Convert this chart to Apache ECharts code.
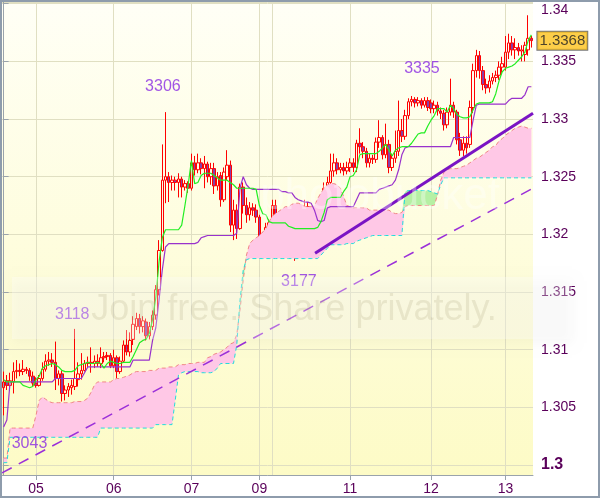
<!DOCTYPE html>
<html><head><meta charset="utf-8">
<script src="https://cdn.jsdelivr.net/npm/echarts@6/dist/echarts.min.js"></script>
<style>html,body{margin:0;padding:0;background:#fff}#c{width:600px;height:498px}</style>
</head><body><div id="c"></div>
<script>
// hourly candles: [open, close, low, high]
const candles = [
/*0*/[1.3067,1.3072,1.3043,1.3081],[1.3073,1.3069,1.3065,1.3078],[1.3069,1.3073,1.3065,1.3080],[1.3072,1.3081,1.3062,1.3089],[1.3081,1.3082,1.3075,1.3091],
/*5*/[1.3082,1.3081,1.3077,1.3088],[1.3081,1.3083,1.3078,1.3091],[1.3083,1.3082,1.3079,1.3085],[1.3082,1.3077,1.3073,1.3084],[1.3077,1.3071,1.3068,1.3081],
/*10*/[1.3071,1.3069,1.3067,1.3076],[1.3069,1.3075,1.3068,1.3078],[1.3075,1.3083,1.3073,1.3089],[1.3083,1.3090,1.3081,1.3096],[1.3090,1.3091,1.3086,1.3098],
/*15*/[1.3091,1.3089,1.3085,1.3097],[1.3089,1.3075,1.3065,1.3107],[1.3075,1.3079,1.3069,1.3082],[1.3079,1.3062,1.3055,1.3082],[1.3062,1.3065,1.3056,1.3069],
/*20*/[1.3065,1.3068,1.3059,1.3071],[1.3067,1.3069,1.3061,1.3074],[1.3068,1.3075,1.3065,1.3118],[1.3074,1.3079,1.3068,1.3089],[1.3079,1.3082,1.3074,1.3097],
/*25*/[1.3082,1.3088,1.3081,1.3091],[1.3088,1.3089,1.3085,1.3094],[1.3089,1.3088,1.3080,1.3102],[1.3088,1.3090,1.3084,1.3095],[1.3090,1.3088,1.3085,1.3096],
/*30*/[1.3088,1.3093,1.3084,1.3102],[1.3093,1.3094,1.3089,1.3098],[1.3094,1.3095,1.3091,1.3098],[1.3095,1.3086,1.3084,1.3097],[1.3086,1.3093,1.3084,1.3100],
/*35*/[1.3093,1.3081,1.3075,1.3095],[1.3081,1.3090,1.3079,1.3094],[1.3090,1.3104,1.3089,1.3108],[1.3104,1.3098,1.3095,1.3117],[1.3098,1.3108,1.3094,1.3115],
/*40*/[1.3109,1.3122,1.3104,1.3129],[1.3120,1.3127,1.3117,1.3132],[1.3127,1.3120,1.3114,1.3131],[1.3120,1.3125,1.3115,1.3129],[1.3124,1.3112,1.3108,1.3127],
/*45*/[1.3112,1.3120,1.3109,1.3124],[1.3120,1.3130,1.3117,1.3134],[1.3130,1.3152,1.3126,1.3156],[1.3152,1.3186,1.3147,1.3195],[1.3186,1.3247,1.3185,1.3278],
/*50*/[1.3247,1.3250,1.3227,1.3306],[1.3250,1.3245,1.3228,1.3254],[1.3245,1.3247,1.3238,1.3251],[1.3247,1.3245,1.3238,1.3250],[1.3245,1.3248,1.3232,1.3253],
/*55*/[1.3248,1.3241,1.3232,1.3250],[1.3241,1.3244,1.3238,1.3247],[1.3244,1.3240,1.3236,1.3246],[1.3240,1.3262,1.3238,1.3270],[1.3262,1.3256,1.3251,1.3268],
/*60*/[1.3256,1.3262,1.3253,1.3270],[1.3262,1.3257,1.3252,1.3266],[1.3257,1.3261,1.3240,1.3268],[1.3261,1.3250,1.3245,1.3263],[1.3250,1.3257,1.3243,1.3262],
/*65*/[1.3257,1.3242,1.3235,1.3262],[1.3242,1.3250,1.3238,1.3254],[1.3251,1.3230,1.3224,1.3254],[1.3230,1.3254,1.3228,1.3258],[1.3250,1.3260,1.3247,1.3273],
/*70*/[1.3260,1.3208,1.3202,1.3264],[1.3208,1.3221,1.3195,1.3230],[1.3221,1.3205,1.3196,1.3226],[1.3205,1.3241,1.3204,1.3244],[1.3241,1.3225,1.3218,1.3245],
/*75*/[1.3225,1.3217,1.3210,1.3232],[1.3217,1.3223,1.3212,1.3228],[1.3223,1.3221,1.3216,1.3227],[1.3221,1.3215,1.3210,1.3226],[1.3215,1.3192,1.3188,1.3217],
/*80*/[1.3192,1.3198,1.3189,1.3202],[1.3198,1.3206,1.3195,1.3210],[1.3206,1.3210,1.3203,1.3213],[1.3210,1.3225,1.3207,1.3230],[1.3225,1.3217,1.3213,1.3230],
/*85*/[1.3217,1.3207,1.3203,1.3219],[1.3207,1.3198,1.3193,1.3209],[1.3198,1.3196,1.3190,1.3203],[1.3196,1.3199,1.3190,1.3203],[1.3199,1.3193,1.3189,1.3202],
/*90*/[1.3193,1.3195,1.3177,1.3200],[1.3195,1.3213,1.3190,1.3216],[1.3213,1.3219,1.3208,1.3224],[1.3219,1.3224,1.3215,1.3230],[1.3224,1.3208,1.3203,1.3228],
/*95*/[1.3208,1.3218,1.3205,1.3222],[1.3218,1.3203,1.3198,1.3220],[1.3203,1.3194,1.3190,1.3206],[1.3194,1.3196,1.3190,1.3199],[1.3196,1.3240,1.3193,1.3245],
/*100*/[1.3240,1.3245,1.3225,1.3250],[1.3245,1.3255,1.3240,1.3270],[1.3255,1.3262,1.3250,1.3270],[1.3262,1.3256,1.3252,1.3266],[1.3256,1.3258,1.3253,1.3262],
/*105*/[1.3258,1.3255,1.3251,1.3262],[1.3255,1.3258,1.3252,1.3263],[1.3258,1.3262,1.3254,1.3266],[1.3262,1.3258,1.3254,1.3266],[1.3258,1.3279,1.3254,1.3282],
/*110*/[1.3279,1.3276,1.3270,1.3292],[1.3276,1.3272,1.3266,1.3280],[1.3272,1.3262,1.3258,1.3275],[1.3262,1.3266,1.3258,1.3270],[1.3266,1.3265,1.3261,1.3269],
/*115*/[1.3265,1.3280,1.3262,1.3284],[1.3280,1.3284,1.3275,1.3299],[1.3284,1.3269,1.3265,1.3286],[1.3269,1.3278,1.3266,1.3296],[1.3278,1.3258,1.3253,1.3282],
/*120*/[1.3258,1.3266,1.3255,1.3270],[1.3266,1.3272,1.3262,1.3290],[1.3272,1.3290,1.3268,1.3316],[1.3290,1.3285,1.3280,1.3300],[1.3285,1.3303,1.3282,1.3308],
/*125*/[1.3303,1.3315,1.3300,1.3318],[1.3315,1.3317,1.3311,1.3320],[1.3317,1.3314,1.3310,1.3319],[1.3314,1.3316,1.3311,1.3319],[1.3316,1.3312,1.3309,1.3318],
/*130*/[1.3312,1.3316,1.3310,1.3319],[1.3316,1.3310,1.3307,1.3319],[1.3314,1.3309,1.3305,1.3317],[1.3309,1.3312,1.3305,1.3316],[1.3312,1.3307,1.3303,1.3315],
/*135*/[1.3307,1.3305,1.3300,1.3310],[1.3305,1.3295,1.3290,1.3308],[1.3295,1.3306,1.3292,1.3310],[1.3306,1.3312,1.3303,1.3335],[1.3312,1.3306,1.3301,1.3315],
/*140*/[1.3306,1.3282,1.3278,1.3308],[1.3282,1.3273,1.3268,1.3288],[1.3273,1.3279,1.3268,1.3285],[1.3279,1.3275,1.3270,1.3285],[1.3278,1.3310,1.3275,1.3316],
/*145*/[1.3310,1.3342,1.3305,1.3348],[1.3342,1.3355,1.3336,1.3360],[1.3355,1.3342,1.3335,1.3359],[1.3342,1.3330,1.3325,1.3346],[1.3330,1.3327,1.3322,1.3335],
/*150*/[1.3327,1.3333,1.3323,1.3338],[1.3333,1.3336,1.3330,1.3340],[1.3336,1.3338,1.3332,1.3342],[1.3338,1.3345,1.3334,1.3350],[1.3345,1.3348,1.3340,1.3354],
/*155*/[1.3345,1.3358,1.3342,1.3372],[1.3358,1.3366,1.3352,1.3374],[1.3366,1.3360,1.3355,1.3372],[1.3360,1.3362,1.3352,1.3370],[1.3362,1.3359,1.3355,1.3366],
/*160*/[1.3359,1.3360,1.3350,1.3364],[1.3356,1.3364,1.3350,1.3367],[1.3360,1.3370,1.3355,1.3390],[1.3370,1.3368,1.3362,1.3372]
];

const tenkan = [
1.3074,1.3072,1.3072,1.3072,1.3072,1.3072,1.3069,1.3068,1.3067,1.3068,
1.3074,1.3077,1.3084,1.3086,1.3087,1.3088,1.3087,1.3085,1.3082,1.3081,
1.3081,1.3081,1.3082,1.3086,1.3087,1.3088,1.3089,1.3088,1.3088,1.3089,
1.3088,1.3084,1.3088,1.3090,1.3089,1.3088,1.3088,1.3089,1.3089,1.3089,
1.3094,1.3100,1.3106,1.3108,1.3109,1.3114,1.3126,1.3145,1.3176,1.3197,
1.3204,1.3204,1.3204,1.3204,1.3204,1.3208,1.3225,1.3243,1.3264,1.3244,
1.3245,1.3251,1.3253,1.3253,1.3253,1.3251,1.3249,1.3247,1.3247,1.3247,
1.3245,1.3243,1.3240,1.3240,1.3240,1.3240,1.3240,1.3240,1.3239,1.3225,
1.3218,1.3217,1.3211,1.3210,1.3210,1.3210,1.3210,1.3210,1.3207,1.3206,
1.3205,1.3205,1.3205,1.3205,1.3205,1.3205,1.3205,1.3206,1.3211,1.3219,
1.3230,1.3232,1.3232,1.3232,1.3232,1.3237,1.3241,1.3250,1.3251,1.3256,
1.3269,1.3270,1.3270,1.3270,1.3270,1.3270,1.3272,1.3275,1.3278,1.3273,
1.3268,1.3273,1.3275,1.3276,1.3276,1.3276,1.3279,1.3283,1.3287,1.3288,
1.3288,1.3294,1.3299,1.3303,1.3309,1.3309,1.3309,1.3306,1.3312,1.3309,
1.3304,1.3302,1.3301,1.3301,1.3302,1.3308,1.3313,1.3314,1.3314,1.3314,
1.3314,1.3315,1.3322,1.3333,1.3341,1.3344,1.3345,1.3346,1.3348,1.3351,
1.3354,1.3358,1.3368,1.3373
];

const kijun = [
1.3033,1.3039,1.3072,1.3072,1.3072,1.3072,1.3072,1.3072,1.3072,1.3072,
1.3072,1.3072,1.3072,1.3072,1.3072,1.3072,1.3075,1.3075,1.3075,1.3075,
1.3075,1.3075,1.3075,1.3075,1.3075,1.3080,1.3085,1.3085,1.3085,1.3085,
1.3085,1.3085,1.3085,1.3085,1.3085,1.3085,1.3085,1.3085,1.3085,1.3085,
1.3091,1.3091,1.3091,1.3091,1.3091,1.3091,1.3108,1.3119,1.3143,1.3169,
1.3189,1.3192,1.3192,1.3192,1.3192,1.3192,1.3192,1.3192,1.3192,1.3192,
1.3193,1.3197,1.3198,1.3199,1.3199,1.3199,1.3199,1.3199,1.3199,1.3199,
1.3199,1.3199,1.3201,1.3240,1.3250,1.3243,1.3240,1.3239,1.3239,1.3239,
1.3239,1.3239,1.3239,1.3239,1.3239,1.3239,1.3237,1.3237,1.3236,1.3236,
1.3232,1.3230,1.3229,1.3228,1.3228,1.3227,1.3221,1.3212,1.3211,1.3212,
1.3223,1.3224,1.3224,1.3224,1.3224,1.3224,1.3224,1.3224,1.3224,1.3230,
1.3236,1.3236,1.3236,1.3236,1.3236,1.3236,1.3239,1.3240,1.3241,1.3242,
1.3243,1.3247,1.3256,1.3269,1.3275,1.3276,1.3276,1.3276,1.3276,1.3276,
1.3276,1.3276,1.3276,1.3276,1.3276,1.3276,1.3276,1.3276,1.3276,1.3284,
1.3284,1.3284,1.3284,1.3284,1.3284,1.3299,1.3312,1.3313,1.3313,1.3313,
1.3313,1.3313,1.3313,1.3313,1.3313,1.3313,1.3316,1.3318,1.3318,1.3318,
1.3318,1.3321,1.3328,1.3328
];

const spanA = [
1.3006,1.3006,1.3032,1.3032,1.3032,1.3032,1.3032,1.3032,1.3032,1.3032,
1.3043,1.3056,1.3059,1.3057,1.3055,1.3054,1.3054,1.3054,1.3054,1.3054,
1.3054,1.3054,1.3055,1.3055,1.3055,1.3056,1.3058,1.3063,1.3069,1.3072,
1.3072,1.3072,1.3072,1.3072,1.3074,1.3075,1.3075,1.3076,1.3077,1.3078,
1.3080,1.3081,1.3081,1.3081,1.3081,1.3082,1.3082,1.3082,1.3084,1.3084,
1.3084,1.3085,1.3085,1.3085,1.3087,1.3087,1.3087,1.3088,1.3088,1.3088,
1.3089,1.3089,1.3089,1.3093,1.3094,1.3096,1.3097,1.3098,1.3100,1.3102,
1.3105,1.3106,1.3113,1.3134,1.3160,1.3182,1.3192,1.3195,1.3197,1.3199,
1.3202,1.3205,1.3211,1.3216,1.3218,1.3220,1.3222,1.3224,1.3224,1.3226,
1.3227,1.3227,1.3226,1.3224,1.3224,1.3224,1.3225,1.3231,1.3236,1.3240,
1.3243,1.3244,1.3244,1.3243,1.3240,1.3233,1.3225,1.3224,1.3223,1.3223,
1.3223,1.3223,1.3223,1.3221,1.3221,1.3221,1.3221,1.3221,1.3221,1.3221,
1.3219,1.3218,1.3218,1.3219,1.3224,1.3225,1.3225,1.3225,1.3225,1.3225,
1.3225,1.3225,1.3225,1.3225,1.3234,1.3247,1.3254,1.3256,1.3257,1.3257,
1.3257,1.3258,1.3259,1.3260,1.3262,1.3264,1.3266,1.3267,1.3269,1.3271,
1.3273,1.3276,1.3277,1.3281,1.3283,1.3286,1.3288,1.3290,1.3292,1.3293,
1.3294,1.3293,1.3292,1.3292
];

const spanB = [
1.3002,1.3002,1.3024,1.3024,1.3024,1.3024,1.3024,1.3024,1.3024,1.3024,
1.3024,1.3024,1.3024,1.3024,1.3024,1.3024,1.3024,1.3024,1.3024,1.3024,
1.3024,1.3024,1.3024,1.3024,1.3024,1.3024,1.3024,1.3024,1.3024,1.3024,
1.3032,1.3032,1.3032,1.3032,1.3032,1.3032,1.3032,1.3032,1.3032,1.3032,
1.3032,1.3032,1.3032,1.3032,1.3032,1.3032,1.3032,1.3035,1.3035,1.3035,
1.3035,1.3035,1.3035,1.3056,1.3078,1.3080,1.3081,1.3081,1.3081,1.3081,
1.3081,1.3080,1.3080,1.3080,1.3080,1.3081,1.3084,1.3088,1.3088,1.3088,
1.3088,1.3088,1.3104,1.3143,1.3169,1.3178,1.3179,1.3179,1.3179,1.3179,
1.3179,1.3179,1.3179,1.3179,1.3179,1.3179,1.3179,1.3179,1.3179,1.3179,
1.3179,1.3179,1.3179,1.3179,1.3179,1.3179,1.3179,1.3179,1.3182,1.3185,
1.3188,1.3191,1.3191,1.3191,1.3191,1.3191,1.3192,1.3192,1.3192,1.3194,
1.3195,1.3196,1.3197,1.3198,1.3199,1.3199,1.3199,1.3199,1.3199,1.3199,
1.3199,1.3199,1.3199,1.3199,1.3237,1.3238,1.3238,1.3238,1.3238,1.3238,
1.3238,1.3238,1.3237,1.3236,1.3235,1.3243,1.3249,1.3249,1.3249,1.3249,
1.3249,1.3249,1.3249,1.3249,1.3249,1.3249,1.3249,1.3249,1.3249,1.3249,
1.3249,1.3249,1.3249,1.3249,1.3249,1.3249,1.3249,1.3249,1.3249,1.3249,
1.3249,1.3249,1.3249,1.3249
];

const dayLabels = ['05','06','07','09','11','12','13'];
const dayIndex  = [10, 34, 58, 79, 107, 132, 155];
const extraGridIndex = [83];

// swing annotations: [x (candle index), price, text]
const swingLabels = [
  [49.2, 1.33284, '3306'],
  [129.2, 1.33440, '3335'],
  [21.2, 1.31300, '3118'],
  [91.2, 1.31586, '3177'],
  [8.0, 1.30182, '3043']
];
// trend lines: [candle index, price]
const trendSolid  = [[96.2, 1.31837], [163.5, 1.33050]];
const trendDashed = [[-0.5, 1.29931], [163.5, 1.32400]];

const categories = candles.map((_, i) => String(i));
const lastIdx = candles.length - 1;
const lastClose = candles[lastIdx][1];

const cloudBase  = spanA.map((a, i) => Math.min(a, spanB[i]));
const cloudPink  = spanA.map((a, i) => Math.max(a - spanB[i], 0));
const cloudGreen = spanA.map((a, i) => Math.max(spanB[i] - a, 0));

const FONT = '"Liberation Sans", Arial, sans-serif';
const AXIS_TXT = '#5a005a';
const gridShow = (idx) => dayIndex.includes(idx) || extraGridIndex.includes(idx);
const CLEAR = 'rgba(0,0,0,0)';

const chart = echarts.init(document.getElementById('c'), null, {renderer: 'canvas'});
chart.setOption({
  animation: false,
  backgroundColor: '#ffffff',
  grid: {
    left: 2, right: 67, top: 2, bottom: 23, show: true, borderWidth: 0,
    backgroundColor: new echarts.graphic.LinearGradient(0, 0, 0, 1, [
      {offset: 0, color: '#fffff6'}, {offset: 1, color: '#fdfbc6'}])
  },
  xAxis: [{
    type: 'category', data: categories, boundaryGap: true,
    axisLine: {lineStyle: {color: '#9aa3ab'}},
    axisTick: {show: true, length: 5, alignWithLabel: true, interval: (i) => dayIndex.includes(i), lineStyle: {color: '#9aa3ab'}},
    axisLabel: {
      interval: (i) => dayIndex.includes(i),
      formatter: (v) => dayLabels[dayIndex.indexOf(+v)] || '',
      color: AXIS_TXT, fontSize: 14, fontFamily: FONT, margin: 7
    },
    splitLine: {show: true, alignWithLabel: true, interval: gridShow, lineStyle: {color: '#e0dfc2'}}
  }, {
    type: 'value', min: -0.5, max: lastIdx + 0.5, show: false
  }],
  yAxis: {
    type: 'value', position: 'right', min: 1.29913, max: 1.34015, splitNumber: 8,
    axisLine: {show: true, lineStyle: {color: '#9aa3ab'}},
    axisTick: {show: true, length: 5, lineStyle: {color: '#9aa3ab'}},
    splitLine: {show: true, lineStyle: {color: '#e0dfc2'}},
    axisLabel: {
      showMinLabel: false, showMaxLabel: false, margin: 8,
      color: AXIS_TXT, fontSize: 14, fontFamily: FONT,
      formatter: (v) => {
        const r = Math.round(v * 1000) / 1000;
        if (Math.abs(r - 1.3) < 1e-9) return '{b|1.3}';
        if (Math.abs(r - 1.34) < 1e-9) return '{t|1.34}';
        return String(r);
      },
      rich: {
        b: {fontWeight: 'bold', fontSize: 16, color: AXIS_TXT, fontFamily: FONT},
        t: {padding: [13, 0, 0, 0], fontSize: 14, color: AXIS_TXT, fontFamily: FONT}
      }
    }
  },
  series: [
    {type: 'line', data: cloudBase, stack: 'cloud', symbol: 'none', silent: true, lineStyle: {width: 0, opacity: 0}},
    {type: 'line', data: cloudPink, stack: 'cloud', symbol: 'none', silent: true, lineStyle: {width: 0, opacity: 0},
      areaStyle: {color: '#ffc8e6', opacity: 1}},
    {type: 'line', data: cloudGreen, stack: 'cloud', symbol: 'none', silent: true, lineStyle: {width: 0, opacity: 0},
      areaStyle: {color: '#b6f0a4', opacity: 1}},
    {type: 'line', data: spanA, symbol: 'none', silent: true, lineStyle: {color: '#f08686', width: 1, type: [4, 3]}},
    {type: 'line', data: spanB, symbol: 'none', silent: true, lineStyle: {color: '#22dcdc', width: 1, type: [4, 3]}},
    {type: 'line', xAxisIndex: 1, data: trendDashed, symbol: 'none', silent: true,
      lineStyle: {color: '#9b30d9', width: 1.5, type: [11, 8]}},
    {type: 'line', data: kijun, symbol: 'none', silent: true, lineStyle: {color: '#9932cc', width: 1.2}},
    {type: 'line', data: tenkan, symbol: 'none', silent: true, lineStyle: {color: '#22ee22', width: 1.2}},
    {type: 'candlestick', data: candles, barWidth: 3,
      itemStyle: {color: 'rgba(255,255,255,0)', color0: '#8a3fa6', borderColor: '#ff0000', borderColor0: '#ff0000', borderWidth: 1}},
    {type: 'line', xAxisIndex: 1, data: trendSolid, symbol: 'none', silent: true,
      lineStyle: {color: '#7a14c4', width: 3}},
    {type: 'scatter', xAxisIndex: 1, data: swingLabels, symbolSize: 2, itemStyle: {color: CLEAR}, silent: true, z: 20,
      label: {show: true, position: 'inside', formatter: (p) => p.data[2], color: '#8a2be2', fontSize: 16, fontFamily: FONT}},
    {type: 'scatter', data: [[lastIdx, lastClose]], symbolSize: 2, itemStyle: {color: CLEAR}, silent: true, z: 20,
      label: {show: true, position: 'right', distance: 5, formatter: () => lastClose.toFixed(4),
        color: '#222', fontSize: 15, fontFamily: FONT, backgroundColor: '#fcc21c',
        borderColor: '#555', borderWidth: 1, padding: [2, 2, 1, 2]}}
  ],
  graphic: [
    {type: 'rect', silent: true, z: 100, shape: {x: 12, y: 277, width: 560, height: 62},
      style: {fill: 'rgba(255,255,255,0.30)', shadowBlur: 10, shadowColor: 'rgba(0,0,0,0.10)', shadowOffsetY: 4}},
    {type: 'text', silent: true, z: 101, x: 294, y: 310,
      style: {text: 'Join free. Share privately.', font: '36px "Liberation Sans", Arial, sans-serif',
        fill: 'rgba(120,110,60,0.13)', align: 'center', verticalAlign: 'middle'}},
    {type: 'text', silent: true, z: 101, x: 380, y: 197,
      style: {text: 'photobucket', font: '44px "Liberation Sans", Arial, sans-serif',
        fill: 'rgba(255,255,255,0.35)', align: 'center', verticalAlign: 'middle'}},
    {type: 'rect', silent: true, z: 102, shape: {x: 1, y: 1, width: 598, height: 496},
      style: {fill: 'none', stroke: '#8e9cac', lineWidth: 2}}
  ]
});
</script></body></html>
